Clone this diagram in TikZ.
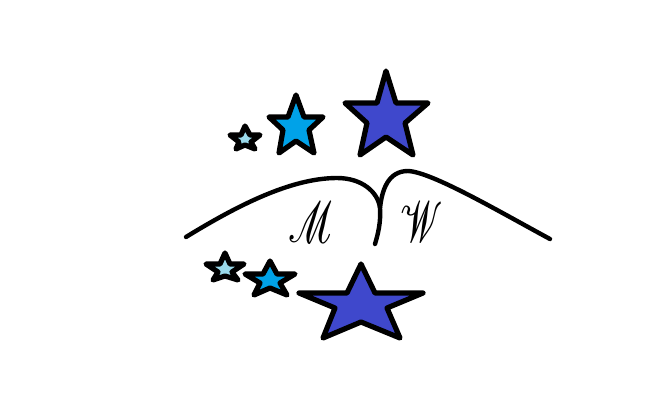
\documentclass[tikz,border=0pt]{standalone}
\usepackage{mathrsfs}
\usetikzlibrary{positioning}
\definecolor{darkstar}{HTML}{3F48CC}
\definecolor{midstar}{HTML}{00A2E8}
\definecolor{palestar}{HTML}{99D9EA}

\begin{document}
\begin{tikzpicture}[x=1pt, y=-1pt, star/.style={draw=black, line width=5.2pt, line join=round}, bookline/.style={draw=black, line width=4.4pt, line cap=round, line join=round}, letter/.style={draw=none, fill=none, inner sep=0pt, transform shape, xscale=4.2, yscale=5.8, xslant=-0.3}]
    \useasboundingbox (0,0) rectangle (669,408);

    %Top stars
    \draw[star, fill=palestar] (245,126) -- (241,135) -- (230,135) -- (239,142) -- (236,149) -- (245,145) -- (255,149) -- (251,142) -- (260,135) -- (250,135) -- cycle;
    \draw[star, fill=midstar] (296,95) -- (288,117) -- (269,117) -- (283,130) -- (279,153) -- (296,141) -- (314,153) -- (309,130) -- (323,117) -- (304,117) -- cycle;
    \draw[star, fill=darkstar] (386,71) -- (377,103) -- (345,103) -- (367,123) -- (360,155) -- (386,137) -- (413,155) -- (405,123) -- (428,103) -- (396,103) -- cycle;

    %Bottom stars
    \draw[star, fill=palestar] (225,253) -- (220,264) -- (206,264) -- (218,272) -- (213,280) -- (225,276) -- (238,280) -- (232,272) -- (244,264) -- (230,264) -- cycle;
    \draw[star, fill=midstar] (270,261) -- (263,274) -- (245,274) -- (260,283) -- (254,295) -- (270,288) -- (287,295) -- (280,283) -- (295,274) -- (277,274) -- cycle;
    \draw[star, fill=darkstar] (361,264) -- (347,293) -- (299,293) -- (335,308) -- (323,338) -- (361,322) -- (400,338) -- (387,308) -- (423,293) -- (375,293) -- cycle;

    %Letters
    \node[letter](leftletter) at (311,222){$\mathscr{M}$};
    \node[letter](rightletter) at (425,222){$\mathscr{W}$};

    %Lines
    \draw[bookline] (186,237) .. controls (235,207) and (290,178) .. (337,178) .. controls (362,178) and (378,192) .. (380,208) .. controls (381,222) and (378,234) .. (375,244);
    \draw[bookline] (380,208) .. controls (382,190) and (388,171) .. (408,171) .. controls (432,172) and (500,212) .. (550,239);
\end{tikzpicture}
\end{document}
